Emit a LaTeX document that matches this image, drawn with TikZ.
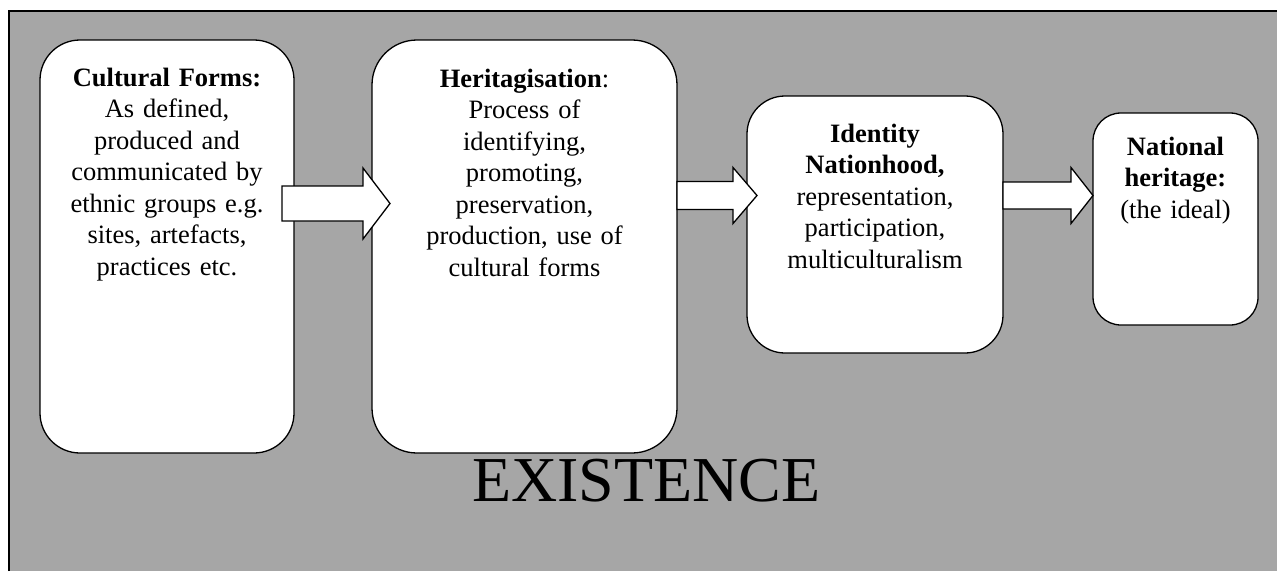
\documentclass[tikz,border=0pt]{standalone}
\usepackage{fontspec}
\setmainfont{Liberation Serif}
\usetikzlibrary{calc}
\definecolor{panelgray}{RGB}{166,166,166}
\tikzset{
  stage/.style={draw=black, line width=1.3pt, fill=white, inner sep=0pt, outer sep=0pt},
  stagetext/.style={anchor=base, align=center, inner sep=0pt, text width=250pt,
    font=\fontsize{26.5}{31.5}\selectfont},
  blockarrow/.style={draw=black, line width=1.3pt, fill=white, line join=miter}
}
\begin{document}
\begin{tikzpicture}[x=1pt, y=-1pt]
            \useasboundingbox (0,0) rectangle (1277,571);
            \fill[panelgray] (9,11) rectangle (1277,571);
            \draw[line width=1.2pt] (9,571) -- (9,11) -- (1277,11);
            \node[stage, minimum width=254pt, minimum height=413pt, rounded corners=40pt] (cf) at (167,246.5) {};
            \node[stage, minimum width=305pt, minimum height=413pt, rounded corners=45pt] (hz) at (524.5,246.5) {};
            \node[stage, minimum width=256pt, minimum height=257pt, rounded corners=38pt] (idn) at (875,224.5) {};
            \node[stage, minimum width=165pt, minimum height=212pt, rounded corners=28pt] (nh) at (1175.5,219) {};
            \node[stagetext] (cftext) at (167,86)
            {\textbf{Cultural Forms:}\\As defined,\\produced and\\communicated by\\ethnic groups e.g.\\sites, artefacts,\\practices etc.};
            \node[stagetext] (hztext) at (524.5,87)
            {\textbf{Heritagisation}:\\Process of\\identifying,\\promoting,\\preservation,\\production, use of\\cultural forms};
            \node[stagetext] (idntext) at (875,142)
            {\textbf{Identity}\\\textbf{Nationhood,}\\representation,\\participation,\\multiculturalism};
            \node[stagetext] (nhtext) at (1175.5,155)
            {\textbf{National}\\\textbf{heritage:}\\(the ideal)};
            \node[anchor=base, inner sep=0pt, font=\fontsize{64}{70}\selectfont] (exist) at (646.5,501) {EXISTENCE};
            \foreach \src/\dst/\ay/\sx/\tx/\sh/\hh/\hl in
            {cf/hz/203.5/-12/18/17.5/35.5/27, hz/idn/195.5/0/10/14/28/24, idn/nh/195.5/0/0/13.5/28/22}
            \draw[blockarrow] ($(\src.east |- 0,\ay)+(\sx,-\sh)$)
            -- ($(\dst.west |- 0,\ay)+(\tx-\hl,-\sh)$)
            -- ($(\dst.west |- 0,\ay)+(\tx-\hl,-\hh)$)
            -- ($(\dst.west |- 0,\ay)+(\tx,0)$)
            -- ($(\dst.west |- 0,\ay)+(\tx-\hl,\hh)$)
            -- ($(\dst.west |- 0,\ay)+(\tx-\hl,\sh)$)
            -- ($(\src.east |- 0,\ay)+(\sx,\sh)$) -- cycle;
        \end{tikzpicture}
\end{document}
